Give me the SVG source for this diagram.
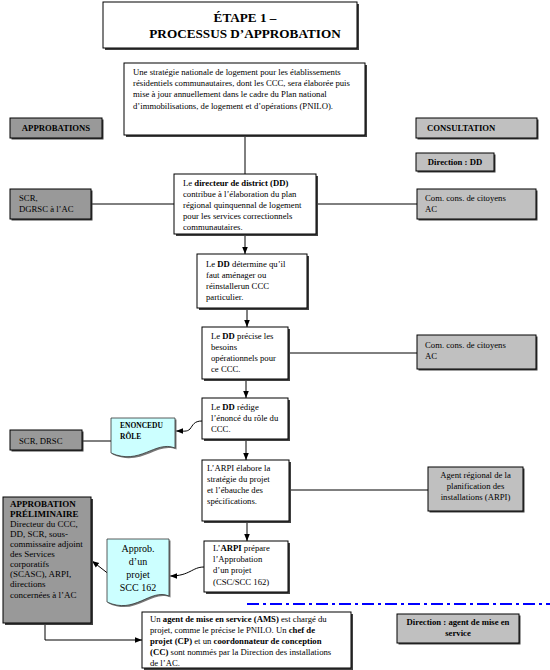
<svg xmlns="http://www.w3.org/2000/svg" width="550" height="670" viewBox="0 0 550 670" font-family="'Liberation Serif', Tinos, 'DejaVu Serif', serif">
<style>
text{font-family:'Liberation Serif',Tinos,'DejaVu Serif',serif;font-size:8.7px;fill:#000}
.b{font-weight:bold}
.c{text-anchor:middle}
.title{font-size:13.2px;font-weight:bold}
.box{fill:#fff;stroke:#000;stroke-width:1}
.g1{fill:#c0c0c0;stroke:#000;stroke-width:1}
.g2{fill:#999;stroke:#000;stroke-width:1}
.doc{fill:#ccffff;stroke:#333;stroke-width:0.8}
.sh{fill:#404040}
.dsh{fill:#777}
.ln{stroke:#000;stroke-width:1;fill:none}
.arr{stroke:#000;stroke-width:1;fill:none;marker-end:url(#ah)}
.dd{stroke:#0000ff;stroke-width:2;fill:none;stroke-dasharray:12,4,3,4}
.ap{font-size:9px}
</style>
<defs>
<marker id="ah" viewBox="0 0 10 10" refX="10" refY="5" markerWidth="7" markerHeight="7" markerUnits="userSpaceOnUse" orient="auto"><path d="M0,1 L10,5 L0,9 Z" fill="#000"/></marker>
</defs>

<g id="connectors">
<line class="ln" x1="245" y1="136" x2="245" y2="174"/>
<line class="ln" x1="91" y1="204" x2="174" y2="204"/>
<line class="ln" x1="316" y1="204" x2="417" y2="204"/>
<line class="arr" x1="245" y1="235" x2="245" y2="254"/>
<line class="arr" x1="247" y1="309" x2="247" y2="327"/>
<line class="ln" x1="288" y1="353" x2="417" y2="353"/>
<line class="arr" x1="246" y1="379" x2="246" y2="398"/>
<path class="arr" d="M202,421 C194,421 193,425 190,429 C187,432 184,431 176,431"/>
<line class="ln" x1="82" y1="441" x2="111" y2="441"/>
<line class="arr" x1="246" y1="439" x2="246" y2="460"/>
<line class="ln" x1="289" y1="490" x2="428" y2="490"/>
<line class="arr" x1="247" y1="521" x2="247" y2="541"/>
<path class="arr" d="M204,567 C192,567 190,576 170,576"/>
<line class="arr" x1="110" y1="575" x2="92" y2="561"/>
<path class="arr" d="M45,623 V640 H142"/>
<line class="dd" x1="247" y1="604" x2="550" y2="604"/>
</g>

<g id="title">
<rect class="sh" x="105" y="4" width="254" height="46"/>
<rect class="box" x="103" y="2" width="254" height="46"/>
<text class="title c" x="245" y="22">ÉTAPE 1 –</text>
<text class="title c" x="245" y="38">PROCESSUS D’APPROBATION</text>
</g>

<g id="strategie">
<rect class="sh" x="126" y="65" width="241" height="72"/>
<rect class="box" x="124" y="63" width="241" height="72"/>
<text x="133" y="75">Une stratégie nationale de logement pour les établissements</text>
<text x="133" y="86">résidentiels communautaires, dont les CCC, sera élaborée puis</text>
<text x="133" y="97">mise à jour annuellement dans le cadre du Plan national</text>
<text x="133" y="109">d’immobilisations, de logement et d’opérations (PNILO).</text>
</g>

<g id="approbations">
<rect class="sh" x="11.5" y="119.5" width="92" height="20"/>
<rect class="g2" x="10" y="118" width="92" height="20"/>
<text class="b c" x="56" y="131">APPROBATIONS</text>
</g>

<g id="consultation">
<rect class="sh" x="417.5" y="119.5" width="121" height="20"/>
<rect class="g1" x="416" y="118" width="121" height="20"/>
<text class="b" x="427" y="131">CONSULTATION</text>
</g>

<g id="direction-dd">
<rect class="sh" x="417.5" y="154.5" width="78" height="18"/>
<rect class="g1" x="416" y="153" width="78" height="18"/>
<text class="b c" x="455" y="165">Direction : DD</text>
</g>

<g id="scr-dgrsc">
<rect class="sh" x="11.5" y="190.5" width="81" height="30"/>
<rect class="g2" x="10" y="189" width="81" height="30"/>
<text x="19" y="201">SCR,</text>
<text x="19" y="212">DGRSC à l’AC</text>
</g>

<g id="dd-contribue">
<rect class="sh" x="176" y="176" width="142" height="60"/>
<rect class="box" x="174" y="174" width="142" height="60"/>
<text x="183" y="186">Le <tspan class="b">directeur de district (DD)</tspan></text>
<text x="183" y="197">contribue à l’élaboration du plan</text>
<text x="183" y="208">régional quinquennal de logement</text>
<text x="183" y="219">pour les services correctionnels</text>
<text x="183" y="230">communautaires.</text>
</g>

<g id="comcons1">
<rect class="sh" x="418.5" y="190.5" width="119" height="30"/>
<rect class="g1" x="417" y="189" width="119" height="30"/>
<text x="425" y="201">Com. cons. de citoyens</text>
<text x="425" y="212">AC</text>
</g>

<g id="dd-determine">
<rect class="sh" x="199" y="256" width="110" height="54"/>
<rect class="box" x="197" y="254" width="110" height="54"/>
<text x="206" y="267">Le <tspan class="b">DD</tspan> détermine qu’il</text>
<text x="206" y="278">faut aménager ou</text>
<text x="206" y="289">réinstallerun CCC</text>
<text x="206" y="300">particulier.</text>
</g>

<g id="dd-precise">
<rect class="sh" x="204" y="329" width="86" height="52"/>
<rect class="box" x="202" y="327" width="86" height="52"/>
<text x="211" y="339">Le <tspan class="b">DD</tspan> précise les</text>
<text x="211" y="350">besoins</text>
<text x="211" y="361">opérationnels pour</text>
<text x="211" y="372">ce CCC.</text>
</g>

<g id="comcons2">
<rect class="sh" x="418.5" y="336.5" width="119" height="34"/>
<rect class="g1" x="417" y="335" width="119" height="34"/>
<text x="425" y="348">Com. cons. de citoyens</text>
<text x="425" y="359">AC</text>
</g>

<g id="dd-redige">
<rect class="sh" x="204" y="400" width="86" height="41"/>
<rect class="box" x="202" y="398" width="86" height="41"/>
<text x="211" y="410">Le <tspan class="b">DD</tspan> rédige</text>
<text x="211" y="421">l’énoncé du rôle du</text>
<text x="211" y="432">CCC.</text>
</g>

<g id="enonce-doc">
<path class="dsh" d="M112.5,419.5 H176.5 V449.5 C156.5,441.5 141.5,467.5 112.5,454.5 Z"/>
<path class="doc" d="M111,418 H175 V448 C155,440 140,466 111,453 Z"/>
<text class="b" x="120" y="428" style="font-size:7.5px">ENONCEDU</text>
<text class="b" x="120" y="439" style="font-size:7.5px">RÔLE</text>
</g>

<g id="scr-drsc">
<rect class="sh" x="11.5" y="431.5" width="72" height="20"/>
<rect class="g2" x="10" y="430" width="72" height="20"/>
<text x="19" y="444">SCR, DRSC</text>
</g>

<g id="arpi-elabore">
<rect class="sh" x="204" y="462" width="87" height="61"/>
<rect class="box" x="202" y="460" width="87" height="61"/>
<text x="207" y="471">L’ARPI élabore la</text>
<text x="207" y="482">stratégie du projet</text>
<text x="207" y="493">et l’ébauche des</text>
<text x="207" y="504">spécifications.</text>
</g>

<g id="arpi-agent">
<rect class="sh" x="429.5" y="468.5" width="95" height="44"/>
<rect class="g1" x="428" y="467" width="95" height="44"/>
<text class="c" x="475.5" y="478">Agent régional de la</text>
<text class="c" x="475.5" y="489">planification des</text>
<text class="c" x="475.5" y="500">installations (ARPI)</text>
</g>

<g id="approbation-prelim">
<rect class="sh" x="5" y="499" width="88" height="126"/>
<rect class="g2" x="3" y="497" width="88" height="126"/>
<text class="b ap" x="10" y="507">APPROBATION</text>
<text class="b ap" x="10" y="517">PRÉLIMINAIRE</text>
<text class="ap" x="10" y="527">Directeur du CCC,</text>
<text class="ap" x="10" y="537">DD, SCR, sous-</text>
<text class="ap" x="10" y="547">commissaire adjoint</text>
<text class="ap" x="10" y="557">des Services</text>
<text class="ap" x="10" y="567">corporatifs</text>
<text class="ap" x="10" y="577">(SCASC), ARPI,</text>
<text class="ap" x="10" y="587">directions</text>
<text class="ap" x="10" y="598">concernées à l’AC</text>
</g>

<g id="approb-doc">
<path class="dsh" d="M108.5,540.5 H170.5 V597.5 C151.5,589.5 136.5,616.5 108.5,603.5 Z"/>
<path class="doc" d="M107,539 H169 V596 C150,588 135,615 107,602 Z"/>
<text class="c" x="138" y="552" style="font-size:10px">Approb.</text>
<text class="c" x="138" y="565" style="font-size:10px">d’un</text>
<text class="c" x="138" y="578" style="font-size:10px">projet</text>
<text class="c" x="138" y="591" style="font-size:10px">SCC 162</text>
</g>

<g id="arpi-prepare">
<rect class="sh" x="206" y="543" width="84" height="51"/>
<rect class="box" x="204" y="541" width="84" height="51"/>
<text x="213" y="551">L’<tspan class="b">ARPI</tspan> prépare</text>
<text x="213" y="562">l’Approbation</text>
<text x="213" y="573">d’un projet</text>
<text x="213" y="585">(CSC/SCC 162)</text>
</g>

<g id="ams">
<rect class="sh" x="144" y="614" width="209" height="56"/>
<rect class="box" x="142" y="612" width="209" height="56"/>
<text x="150" y="622">Un <tspan class="b">agent de mise en service (AMS)</tspan> est chargé du</text>
<text x="150" y="633">projet, comme le précise le PNILO. Un <tspan class="b">chef de</tspan></text>
<text x="150" y="644"><tspan class="b">projet (CP)</tspan> et un <tspan class="b">coordonnateur de conception</tspan></text>
<text x="150" y="655"><tspan class="b">(CC)</tspan> sont nommés par la Direction des installations</text>
<text x="150" y="666">de l’AC.</text>
</g>

<g id="direction-ams">
<rect class="sh" x="398.5" y="615.5" width="122" height="29"/>
<rect class="g1" x="397" y="614" width="122" height="29"/>
<text class="b c" x="458" y="625">Direction : agent de mise en</text>
<text class="b c" x="458" y="636">service</text>
</g>
</svg>
